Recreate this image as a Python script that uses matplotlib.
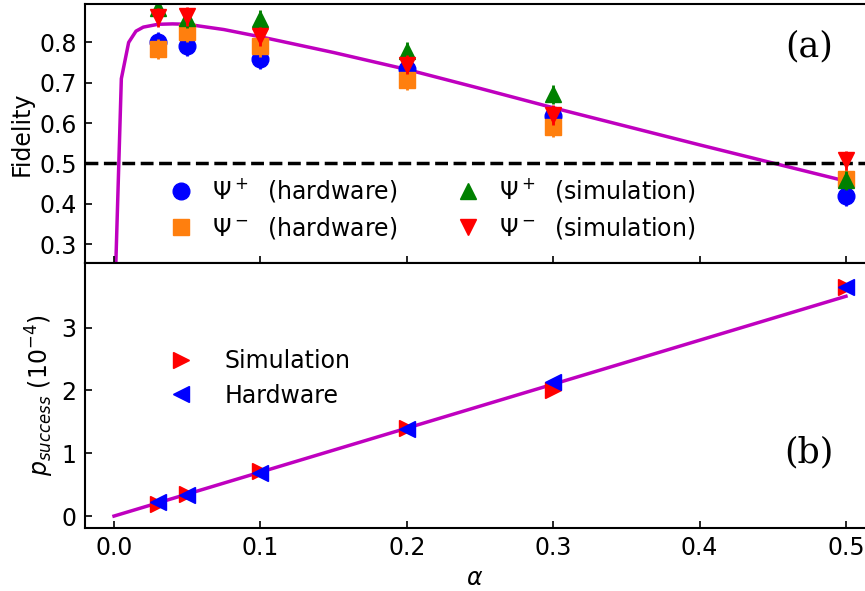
import matplotlib.pyplot as plt

# measured fidelities
alpha = [0.03, 0.05, 0.1, 0.2, 0.3, 0.5]
psi_p_hw = [0.800, 0.792, 0.758, 0.735, 0.617, 0.419]
psi_m_hw = [0.783, 0.827, 0.790, 0.708, 0.590, 0.462]
psi_p_sim = [0.886, 0.860, 0.857, 0.778, 0.671, 0.458]
psi_m_sim = [0.862, 0.865, 0.815, 0.745, 0.620, 0.508]
err_hw = [0.025, 0.025, 0.025, 0.025, 0.025, 0.025]
err_sim = [0.024, 0.024, 0.024, 0.024, 0.024, 0.024]

# theory curve for the fidelity
alpha_th = [0.0, 0.005, 0.01, 0.015, 0.02, 0.03, 0.04, 0.05, 0.075, 0.1,
            0.15, 0.2, 0.25, 0.3, 0.35, 0.4, 0.45, 0.5]
fid_th = [0.10, 0.71, 0.80, 0.828, 0.838, 0.845, 0.846, 0.845, 0.832, 0.814,
          0.775, 0.733, 0.686, 0.638, 0.592, 0.546, 0.501, 0.456]

# success probability (units of 1e-4)
p_sim = [0.20, 0.35, 0.71, 1.40, 2.00, 3.65]
p_hw = [0.22, 0.34, 0.68, 1.38, 2.13, 3.65]
alpha_line = [0.0, 0.5]
p_line = [0.0, 3.5]

plt.rcParams['font.size'] = 17
plt.rcParams['axes.linewidth'] = 1.5

fig = plt.figure(figsize=(8.65, 5.91), dpi=100)
ax1 = fig.add_axes([0.0983, 0.555, 0.9017, 0.438])
ax2 = fig.add_axes([0.0983, 0.1066, 0.9017, 0.4484], sharex=ax1)

ms = 12
ax1.plot(alpha_th, fid_th, color='m', lw=2.5, zorder=1)
ax1.axhline(0.5, color='k', ls='--', lw=2.5, zorder=1)
series = [(psi_p_hw, err_hw, 'o', 'b', ms, r'$\Psi^+\ $ (hardware)'),
          (psi_m_hw, err_hw, 's', 'tab:orange', ms - 1, r'$\Psi^-\ $ (hardware)'),
          (psi_p_sim, err_sim, '^', 'g', ms, r'$\Psi^+\ $ (simulation)'),
          (psi_m_sim, err_sim, 'v', 'r', ms, r'$\Psi^-\ $ (simulation)')]
for vals, err, mk, col, size, lab in series:
    ax1.errorbar(alpha, vals, yerr=err, fmt='none', ecolor=col, elinewidth=2, capsize=0)
    ax1.plot(alpha, vals, mk, color=col, ms=size, label=lab)
ax1.set_ylim(0.253, 0.895)
ax1.set_yticks([0.3, 0.4, 0.5, 0.6, 0.7, 0.8])
ax1.set_ylabel('Fidelity')
ax1.legend(ncol=2, frameon=False, loc='center left', bbox_to_anchor=(0.078, 0.21),
           handletextpad=0.7, columnspacing=2.4, labelspacing=0.45, handlelength=1.2)
ax1.text(0.928, 0.835, '(a)', transform=ax1.transAxes, family='DejaVu Serif',
         fontsize=25, ha='center', va='center')

ax2.plot(alpha_line, p_line, color='m', lw=2.5, zorder=1)
ax2.plot(alpha, p_sim, '>', color='r', ms=ms, label='Simulation')
ax2.plot(alpha, p_hw, '<', color='b', ms=ms, label='Hardware')
ax2.set_ylim(-0.19, 4.03)
ax2.set_yticks([0, 1, 2, 3])
ax2.set_xlim(-0.0198, 0.513)
ax2.set_xticks([0.0, 0.1, 0.2, 0.3, 0.4, 0.5])
ax2.set_xlabel(r'$\alpha$', labelpad=4)
ax2.set_ylabel(r'$p_{success}$ $(10^{-4})$')
ax2.legend(frameon=False, loc='center left', bbox_to_anchor=(0.078, 0.565),
           handletextpad=1.25, labelspacing=0.45, handlelength=1.2)
ax2.text(0.928, 0.285, '(b)', transform=ax2.transAxes, family='DejaVu Serif',
         fontsize=25, ha='center', va='center')

for ax in (ax1, ax2):
    ax.tick_params(direction='in', length=5, width=1.2, pad=6)
    ax.spines['right'].set_visible(False)
ax1.tick_params(labelbottom=False)

fig.savefig('out.png', dpi=100)
